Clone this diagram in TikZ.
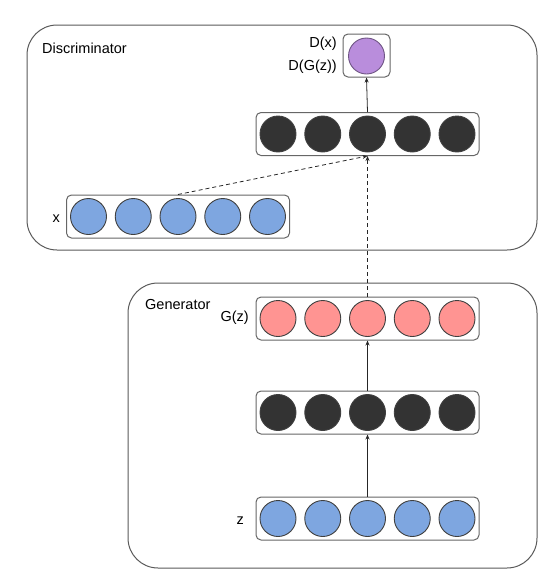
\documentclass[tikz,border=0pt]{standalone}
\usepackage{fontspec}
\setmainfont{Liberation Sans}
\usetikzlibrary{arrows.meta}
\definecolor{cblue}{HTML}{7EA6E0}
\definecolor{cdark}{HTML}{333333}
\definecolor{cred}{HTML}{FF9492}
\definecolor{cpurple}{HTML}{B98DDC}
\tikzset{
  bigbox/.style={draw=black!65, line width=1pt, rounded corners=30pt},
  layerbox/.style={draw=black!60, line width=1pt, rounded corners=5pt, minimum width=223pt, minimum height=43pt, inner sep=0pt},
  neuron/.style={circle, draw=black!75, line width=0.9pt, minimum size=36pt, inner sep=0pt},
  lbl/.style={font=\fontsize{14.5pt}{16pt}\selectfont, inner sep=1pt},
  conn/.style={-{Stealth[length=5pt,width=4pt]}, line width=0.8pt, black!85},
  dconn/.style={conn, dashed, dash pattern=on 4pt off 3pt}
}
\begin{document}
\begin{tikzpicture}[x=1pt,y=-1pt]
\useasboundingbox (0,0) rectangle (558,582);
% big boxes
\draw[bigbox] (27,25) rectangle (537,250);
\draw[bigbox] (128,283) rectangle (537,568);
\node[lbl, anchor=west] (disclbl) at (41,48) {Discriminator};
\node[lbl, anchor=west] (genlbl) at (144,305) {Generator};
% output
\node[layerbox, minimum width=47pt, minimum height=43pt] (outbox) at (366.5,55.5) {};
\node[neuron, fill=cpurple, draw=cpurple!60!black] (out) at (366.5,56) {};
\node[lbl, anchor=east] (dx) at (338,44) {D(x)};
\node[lbl, anchor=east] (dgz) at (338,67) {D(G(z))};
% layers
\newcommand{\mylayer}[4]{%
  \node[layerbox] (#1box) at (#2,#3) {};
  \foreach \i in {0,...,4} {
    \node[neuron, fill=#4] (#1\i) at ({#2-89.5+\i*44.75},#3) {};
  }
}
\mylayer{dh}{367.5}{134}{cdark}
\mylayer{x}{178}{216.5}{cblue}
\mylayer{g}{367.5}{318.5}{cred}
\mylayer{gh}{367.5}{412.5}{cdark}
\mylayer{z}{367.5}{518.5}{cblue}
\node[lbl, anchor=east] (xl) at (61,219) {x};
\node[lbl, anchor=east] (gzl) at (250,318) {G(z)};
\node[lbl, anchor=east] (zl) at (245,521) {z};
% connectors
\draw[conn] (dhbox.north) -- (outbox.south);
\draw[dconn] (xbox.north) -- (dhbox.south);
\draw[dconn] (gbox.north) -- (dhbox.south);
\draw[conn] (ghbox.north) -- (gbox.south);
\draw[conn] (zbox.north) -- (ghbox.south);
\end{tikzpicture}
\end{document}
